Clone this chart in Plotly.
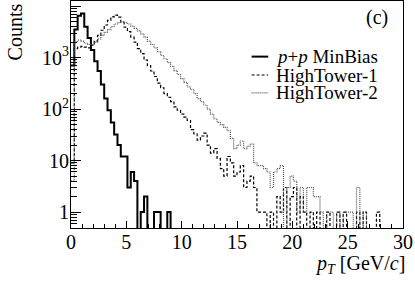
import numpy as np
import plotly.graph_objects as go

# bin edges: 0..30 GeV/c in 0.3 GeV/c bins
bin_width = 0.3
n_bins = 100

minbias = [700, 3500, 6500, 7200, 4000, 2400, 1400, 850, 550, 300,
           160, 95, 55, 32, 20, 12, 12, 3, 6, 4,
           0, 1, 2, 0, 0, 1, 1, 0, 0, 1] + [0] * 70

hightower1 = [9, 1500, 1600, 1650, 1600, 1550, 1750, 2100, 2700, 3400,
              4300, 5300, 6200, 6700, 6100, 4900, 3900, 3200, 2500, 2000,
              1500, 1200, 900, 700, 550, 430, 320, 260, 200, 170,
              140, 110, 95, 80, 70, 60, 40, 33, 25, 30,
              34, 20, 14, 17, 11, 7, 5, 12, 9, 5,
              6, 8, 3, 4, 5, 3, 1, 1, 1, 0,
              1, 0, 2, 1, 3, 0, 2, 3, 0, 2,
              1, 0, 1, 0, 1, 0, 0, 1, 0, 0,
              1, 0, 1, 0, 0, 0, 1, 0, 1, 0,
              0, 0, 1, 0, 0, 0, 0, 0, 0, 0]

hightower2 = [4, 2000, 2200, 2100, 1900, 1800, 1800, 2000, 2300, 2700,
              3100, 3500, 4000, 4500, 4800, 5000, 4800, 4500, 4100, 3700,
              3300, 2900, 2500, 2100, 1800, 1550, 1300, 1100, 950, 800,
              680, 560, 470, 390, 330, 270, 240, 200, 160, 140,
              120, 100, 80, 65, 55, 50, 44, 38, 27, 17,
              20, 24, 17, 19, 21, 9, 8, 8, 7, 6,
              3, 6, 7, 8, 0, 3, 5, 4, 1, 3,
              1, 3, 3, 2, 2, 1, 0, 1, 1, 0,
              1, 0, 1, 1, 1, 0, 3, 0, 1, 0,
              0, 0, 0, 0, 0, 0, 0, 0, 0, 0]

series_names = ["<i>p</i>+<i>p</i> MinBias", "HighTower-1", "HighTower-2"]

x_ticks = [0, 5, 10, 15, 20, 25, 30]
y_ticks = [1, 10, 100, 1000, 10000]
y_ticktext = ["1", "10", "10<sup>2</sup>", "10<sup>3</sup>", "10<sup>4</sup>"]

edges = np.arange(n_bins + 1) * bin_width
FLOOR = 1e-3  # empty bins drawn below the axis, as ROOT does


def step_y(vals):
    v = [x if x > 0 else FLOOR for x in vals]
    return v + [v[-1]]


FONT = "Liberation Serif"
styles = [
    dict(color="black", width=2, dash="solid"),
    dict(color="black", width=1.2, dash="3px,2px"),
    dict(color="#555555", width=1.2, dash="1px,1px"),
]

fig = go.Figure()
for vals, st in zip([minbias, hightower1, hightower2], styles):
    fig.add_trace(go.Scatter(x=edges, y=step_y(vals), mode="lines",
                             line=dict(shape="hv", **st), showlegend=False,
                             hoverinfo="skip"))

minor_y = [k * 10 ** d for d in range(-1, 5) for k in range(2, 10)]

fig.update_layout(
    template="none",
    width=415, height=286,
    margin=dict(l=71, r=12, t=1, b=58),
    paper_bgcolor="white", plot_bgcolor="white",
    font=dict(family=FONT, size=20, color="black"),
    xaxis=dict(range=[0, 30], tickvals=x_ticks, ticks="inside", ticklen=7,
               tickcolor="black", showline=True, linecolor="black",
               linewidth=1, mirror=True, showgrid=False, zeroline=False,
               automargin=False, ticklabelstandoff=-4,
               minor=dict(ticks="inside", ticklen=4, dtick=1,
                          tickcolor="black", showgrid=False),
               tickfont=dict(family=FONT, size=20)),
    yaxis=dict(type="log", range=[-0.31, 4.1], tickvals=y_ticks,
               ticktext=y_ticktext, ticks="inside", ticklen=10,
               tickcolor="black", showline=True, linecolor="black",
               linewidth=1, mirror=True, showgrid=False, zeroline=False,
               automargin=False, ticklabelstandoff=-3,
               minor=dict(ticks="inside", ticklen=6, tickvals=minor_y,
                          tickcolor="black", showgrid=False),
               tickfont=dict(family=FONT, size=20)),
)

# axis titles
fig.add_annotation(text="Counts", xref="paper", yref="paper",
                   x=-0.169, y=1.0, xanchor="center", yanchor="top",
                   textangle=-90, showarrow=False,
                   font=dict(family=FONT, size=20))
fig.add_annotation(text="<i>p<sub>T</sub></i> [GeV/<i>c</i>]",
                   xref="paper", yref="paper", x=1.012, y=-0.162,
                   xanchor="right", yanchor="middle", showarrow=False,
                   font=dict(family=FONT, size=20))
fig.add_annotation(text="(c)", xref="paper", yref="paper", x=0.96, y=0.985,
                   xanchor="right", yanchor="top", showarrow=False,
                   font=dict(family=FONT, size=20))

# legend drawn in paper coordinates
leg_y = [0.755, 0.674, 0.595]
for name, st, yy in zip(series_names, styles, leg_y):
    fig.add_shape(type="line", xref="paper", yref="paper",
                  x0=0.544, x1=0.594, y0=yy, y1=yy,
                  line=dict(color=st["color"], width=st["width"],
                            dash=st["dash"]))
    fig.add_annotation(text=name, xref="paper", yref="paper", x=0.61, y=yy,
                       xanchor="left", yanchor="middle", showarrow=False,
                       font=dict(family=FONT, size=19))

fig.write_html("out.html",
               config={"displayModeBar": False},
               post_script="document.body.style.margin='0px';")
